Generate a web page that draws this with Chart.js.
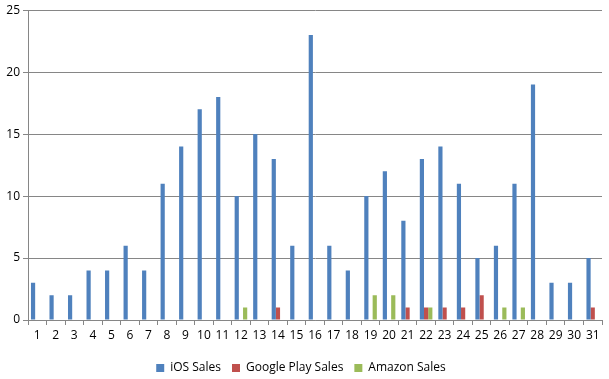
<!DOCTYPE html>
<html><head><meta charset="utf-8">
<script src="https://cdn.jsdelivr.net/npm/chart.js@4/dist/chart.umd.min.js"></script>
<style>html,body{margin:0;padding:0;background:#fff}#w{width:609px;height:379px}</style>
</head><body><div id="w"><canvas id="c"></canvas></div>
<script>
const categories = ['1','2','3','4','5','6','7','8','9','10','11','12','13','14','15','16','17','18','19','20','21','22','23','24','25','26','27','28','29','30','31'];
const iosSales = [3,2,2,4,4,6,4,11,14,17,18,10,15,13,6,23,6,4,10,12,8,13,14,11,5,6,11,19,3,3,5];
const googleSales = [0,0,0,0,0,0,0,0,0,0,0,0,0,1,0,0,0,0,0,0,1,1,1,1,2,0,0,0,0,0,1];
const amazonSales = [0,0,0,0,0,0,0,0,0,0,0,1,0,0,0,0,0,0,2,2,0,1,0,0,0,1,1,0,0,0,0];
const yTicks = [0,5,10,15,20,25];

const font = {family:'"Open Sans", "DejaVu Sans", sans-serif', size: 12};
Chart.defaults.font = font;
Chart.defaults.color = '#000';
new Chart(document.getElementById('c'), {
  type: 'bar',
  data: {
    labels: categories,
    datasets: [
      {label:'iOS Sales', data: iosSales, backgroundColor:'#4F81BD'},
      {label:'Google Play Sales', data: googleSales, backgroundColor:'#C0504D'},
      {label:'Amazon Sales', data: amazonSales, backgroundColor:'#9BBB59'}
    ]
  },
  options: {
    responsive: true, maintainAspectRatio: false, animation: false,
    devicePixelRatio: 1,
    layout: {padding: {top: 8, right: 7, left: 0, bottom: -5}},
    datasets: {bar: {barPercentage: 1, categoryPercentage: 0.68}},
    plugins: {
      tooltip: {enabled: false},
      legend: {position: 'bottom', labels: {boxWidth: 8, boxHeight: 8, padding: 11, font: font, color:'#000'}}
    },
    scales: {
      x: {
        grid: {offset: true, drawOnChartArea: false, drawTicks: true, tickLength: 5, color: '#868686'},
        border: {color: '#868686'},
        ticks: {padding: 3, maxRotation: 0, autoSkip: false, font: font, color:'#000'},
        afterFit: s => { s.height = 31; }
      },
      y: {
        min: 0, max: 25,
        afterBuildTicks: s => { s.ticks = yTicks.map(v => ({value: v})); },
        grid: {color: '#868686', tickLength: 5, drawTicks: true},
        border: {color: '#868686'},
        ticks: {padding: 3, font: font, color:'#000'},
        afterFit: s => { s.width = 28; }
      }
    }
  }
});
</script></body></html>
